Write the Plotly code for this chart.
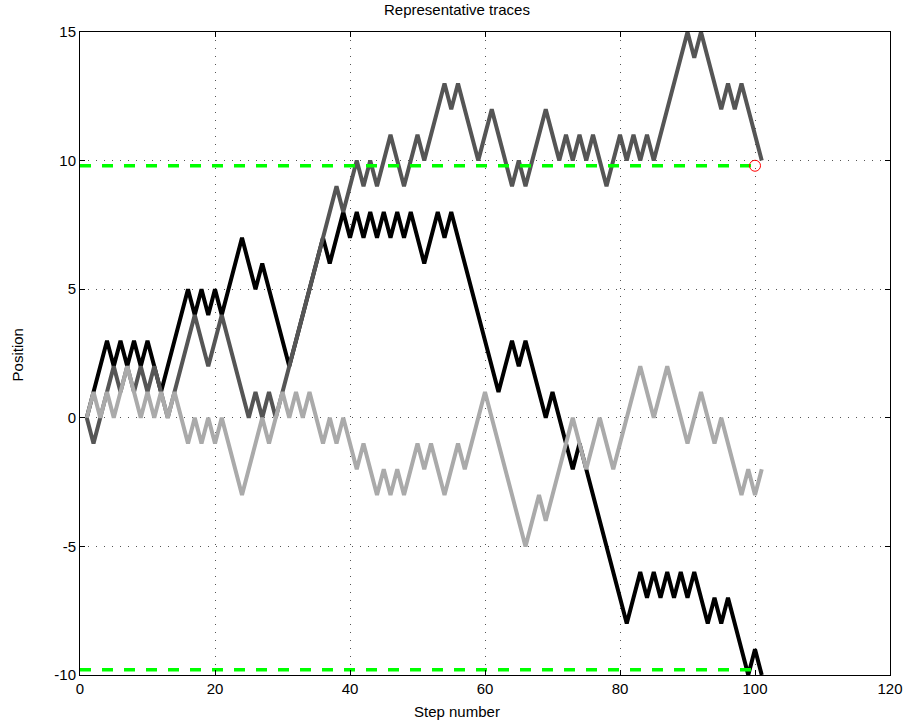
import plotly.graph_objects as go

# ---- data ----
steps = list(range(1, 102))

walk_black = [0, 1, 2, 3, 2, 3, 2, 3, 2, 3,
              2, 1, 2, 3, 4, 5, 4, 5, 4, 5,
              4, 5, 6, 7, 6, 5, 6, 5, 4, 3,
              2, 3, 4, 5, 6, 7, 6, 7, 8, 7,
              8, 7, 8, 7, 8, 7, 8, 7, 8, 7,
              6, 7, 8, 7, 8, 7, 6, 5, 4, 3,
              2, 1, 2, 3, 2, 3, 2, 1, 0, 1,
              0, -1, -2, -1, -2, -3, -4, -5, -6, -7,
              -8, -7, -6, -7, -6, -7, -6, -7, -6, -7,
              -6, -7, -8, -7, -8, -7, -8, -9, -10, -9,
              -10]

walk_dark = [0, -1, 0, 1, 2, 1, 2, 1, 2, 1,
             2, 1, 0, 1, 2, 3, 4, 3, 2, 3,
             4, 3, 2, 1, 0, 1, 0, 1, 0, 1,
             2, 3, 4, 5, 6, 7, 8, 9, 8, 9,
             10, 9, 10, 9, 10, 11, 10, 9, 10, 11,
             10, 11, 12, 13, 12, 13, 12, 11, 10, 11,
             12, 11, 10, 9, 10, 9, 10, 11, 12, 11,
             10, 11, 10, 11, 10, 11, 10, 9, 10, 11,
             10, 11, 10, 11, 10, 11, 12, 13, 14, 15,
             14, 15, 14, 13, 12, 13, 12, 13, 12, 11,
             10]

walk_light = [0, 1, 0, 1, 0, 1, 2, 1, 0, 1,
              0, 1, 0, 1, 0, -1, 0, -1, 0, -1,
              0, -1, -2, -3, -2, -1, 0, -1, 0, 1,
              0, 1, 0, 1, 0, -1, 0, -1, 0, -1,
              -2, -1, -2, -3, -2, -3, -2, -3, -2, -1,
              -2, -1, -2, -3, -2, -1, -2, -1, 0, 1,
              0, -1, -2, -3, -4, -5, -4, -3, -4, -3,
              -2, -1, 0, -1, -2, -1, 0, -1, -2, -1,
              0, 1, 2, 1, 0, 1, 2, 1, 0, -1,
              0, 1, 0, -1, 0, -1, -2, -3, -2, -3,
              -2]

bound_x = [0, 100]
bound_upper = [9.8, 9.8]
bound_lower = [-9.8, -9.8]

marker_x = [100]
marker_y = [9.8]

xtick_vals = [0, 20, 40, 60, 80, 100, 120]
xtick_text = ["0", "20", "40", "60", "80", "100", "120"]
ytick_vals = [-10, -5, 0, 5, 10, 15]
ytick_text = ["-10", "-5", "0", "5", "10", "15"]

# ---- figure ----
fig = go.Figure()
for ys, col in [(walk_black, "#000000"), (walk_dark, "#555555"), (walk_light, "#aaaaaa")]:
    fig.add_trace(go.Scatter(x=steps, y=ys, mode="lines",
                             line=dict(color=col, width=4), showlegend=False))
for yb in (bound_upper, bound_lower):
    fig.add_trace(go.Scatter(x=bound_x, y=yb, mode="lines",
                             line=dict(color="#00ff00", width=3.5, dash="11px,11px"),
                             showlegend=False))
fig.add_trace(go.Scatter(x=marker_x, y=marker_y, mode="markers",
                         marker=dict(symbol="circle-open", size=11, color="#ff0000",
                                     line=dict(width=1, color="#ff0000")),
                         showlegend=False))

font_family = "Liberation Sans, Arial, Helvetica, sans-serif"
axis_common = dict(
    showline=True, linecolor="black", linewidth=1, mirror="ticks",
    ticks="inside", ticklen=5, tickwidth=1, tickcolor="black",
    showgrid=True, gridcolor="#555555", gridwidth=1, griddash="1px,7px",
    zeroline=False, tickfont=dict(family=font_family, size=15, color="black"),
)

fig.update_layout(
    width=915, height=725,
    margin=dict(l=80, r=19, t=32, b=50),
    paper_bgcolor="white", plot_bgcolor="white",
    xaxis=dict(range=[0, 120], tickvals=xtick_vals, ticktext=xtick_text, **axis_common),
    yaxis=dict(range=[-10, 15], tickvals=ytick_vals, ticktext=ytick_text, **axis_common),
    annotations=[
        dict(text="Representative traces", xref="paper", yref="paper",
             x=(460 - 80) / 816, y=1 + (32 - 10) / 643, showarrow=False,
             xanchor="center", yanchor="middle",
             font=dict(family=font_family, size=15, color="black")),
        dict(text="Step number", xref="paper", yref="paper",
             x=(460 - 80) / 816, y=(675 - 712) / 643, showarrow=False,
             xanchor="center", yanchor="middle",
             font=dict(family=font_family, size=15, color="black")),
        dict(text="Position", xref="paper", yref="paper",
             x=(18 - 80) / 816, y=(675 - 355) / 643, showarrow=False,
             xanchor="center", yanchor="middle", textangle=-90,
             font=dict(family=font_family, size=15, color="black")),
    ],
)

fig.write_html("out.html")
